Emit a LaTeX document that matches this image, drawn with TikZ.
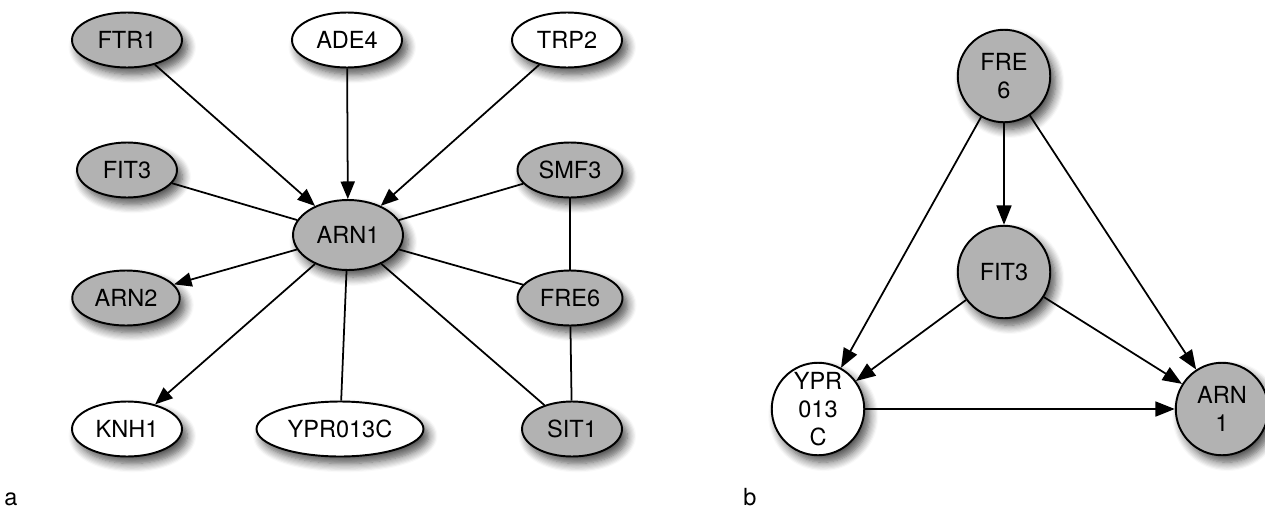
\documentclass[tikz,border=0pt]{standalone}
\usepackage{fontspec}
\setmainfont{TeX Gyre Heros}
\usetikzlibrary{shapes,arrows.meta,shadows.blur,positioning}

\tikzset{
  base/.style={draw,line width=1.1pt,inner sep=0pt,
    font=\fontsize{13.4}{16}\selectfont,
    blur shadow={shadow xshift=3pt,shadow yshift=-4pt,shadow blur steps=8,shadow blur radius=5pt,shadow opacity=70}},
  gene/.style={base,ellipse,minimum width=2.2cm,minimum height=1.1cm},
  hub/.style={gene,minimum height=1.4cm},
  factor/.style={base,circle,minimum size=1.85cm,align=center},
  hit/.style={fill=black!30},
  miss/.style={fill=white},
  link/.style={line width=1pt},
  tip/.style={link,-{Triangle[length=10pt,width=8pt]}},
  panel/.style={font=\fontsize{13.4}{16}\selectfont,anchor=base west,inner sep=0pt}
}

\begin{document}
\begin{tikzpicture}[x=0.02cm,y=-0.02cm]
   \useasboundingbox (0,0) rectangle (1265,514);

   % panel a
   \node[gene,hit]  (FTR1) at (127,40)  {FTR1};
   \node[gene,miss] (ADE4) at (347,40)  {ADE4};
   \node[gene,miss] (TRP2) at (567,40)  {TRP2};
   \node[gene,hit,minimum width=2cm]  (FIT3) at (127,170) {FIT3};
   \node[hub,hit]   (ARN1) at (348,235) {ARN1};
   \node[gene,hit,minimum width=2.1cm]  (SMF3) at (570,170) {SMF3};
   \node[gene,hit,minimum width=2.15cm] (ARN2) at (126,298) {ARN2};
   \node[gene,hit,minimum width=2.1cm]  (FRE6) at (570,298) {FRE6};
   \node[gene,miss] (KNH1) at (127,429) {KNH1};
   \node[gene,miss,minimum width=3.34cm] (YPR) at (340,429) {YPR013C};
   \node[gene,hit,minimum width=2cm]  (SIT1) at (572,429) {SIT1};

   \path[tip]
    (FTR1) edge (ARN1)
    (ADE4) edge (ARN1)
    (TRP2) edge (ARN1)
    (ARN1) edge (ARN2)
           edge (KNH1);
   \path[link]
    (ARN1) edge (FIT3)
           edge (SMF3)
           edge (FRE6)
           edge (YPR)
           edge (SIT1)
    (SMF3) edge (FRE6)
    (FRE6) edge (SIT1);

   % panel b
   \node[factor,hit]  (bFRE6) at (1004,76)  {FRE\\6};
   \node[factor,hit]  (bFIT3) at (1004,272) {FIT3};
   \node[factor,miss] (bYPR)  at (818,409)  {YPR\\013\\C};
   \node[factor,hit]  (bARN1) at (1222,409) {ARN\\1};

   \path[tip,-{Triangle[length=11pt,width=8.5pt]}]
    (bFRE6) edge (bFIT3)
            edge (bYPR)
            edge (bARN1)
    (bFIT3) edge (bYPR)
            edge (bARN1)
    (bYPR)  edge (bARN1);

   \node[panel] (la) at (4,505)   {a};
   \node[panel] (lb) at (743,505) {b};
\end{tikzpicture}
\end{document}
